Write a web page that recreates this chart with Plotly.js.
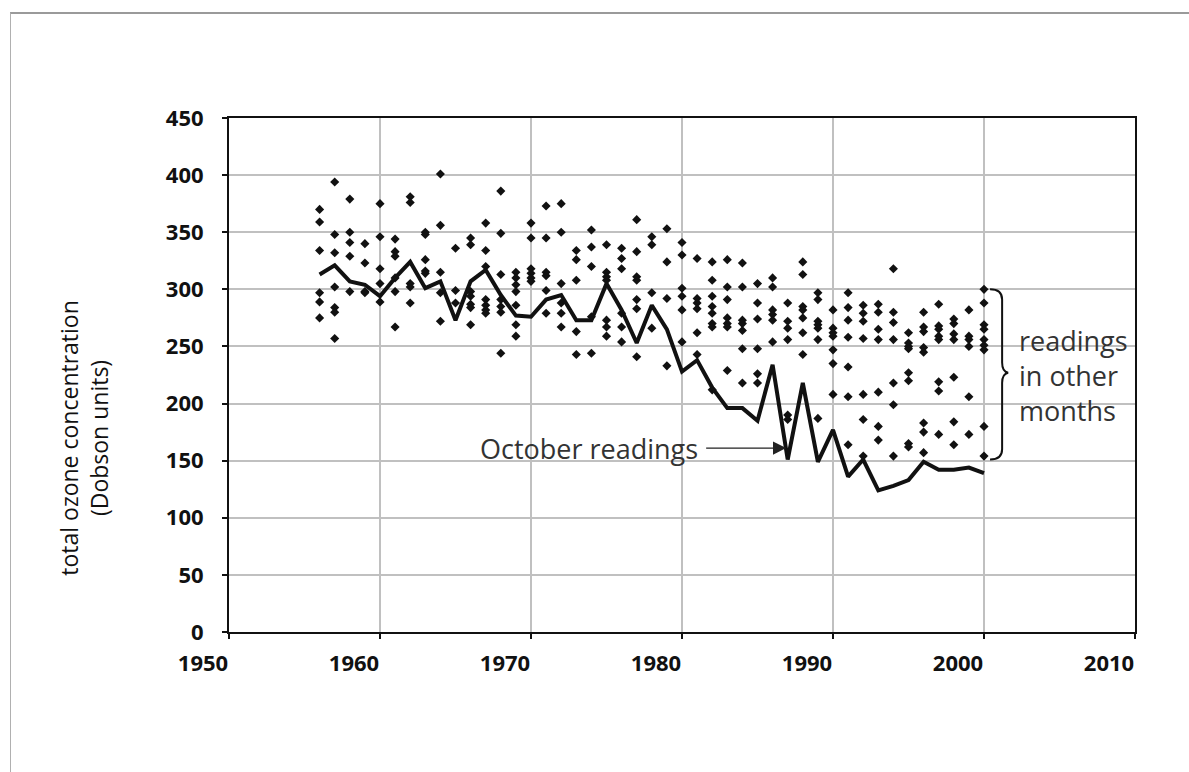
<!DOCTYPE html>
<html>
<head>
<meta charset="utf-8">
<script src="https://cdn.plot.ly/plotly-3.0.1.min.js"></script>
<style>
  html, body { margin: 0; padding: 0; background: #fff; }
  #wrap { position: relative; width: 1189px; height: 772px; }
  #chart { width: 1189px; height: 772px; }
  #frame { position: absolute; left: 10px; top: 12px; right: 0; bottom: 0;
           border-top: 2px solid #9a9a9a; border-left: 1px solid #b0b0b0; pointer-events: none; }
</style>
</head>
<body>
<div id="wrap">
  <div id="chart"></div>
  <div id="frame"></div>
</div>
<script>
// October readings (solid line)
const years = [1956,1957,1958,1959,1960,1961,1962,1963,1964,1965,1966,1967,1968,1969,1970,
  1971,1972,1973,1974,1975,1976,1977,1978,1979,1980,1981,1982,1983,1984,1985,
  1986,1987,1988,1989,1990,1991,1992,1993,1994,1995,1996,1997,1998,1999,2000];
const october = [313,321,307,304,294,310,324,301,307,273,307,317,295,277,276,
  291,295,273,273,305,282,253,286,265,228,238,214,196,196,185,
  234,151,218,149,177,136,151,124,128,133,149,142,142,144,139];

// Readings in other months, one list per year (same order as years)
const otherMonths = [
  [370,359,334,297,289,275],
  [394,348,332,302,284,280,257],
  [379,350,341,329,298],
  [340,323,298,297],
  [375,346,318,305,289],
  [344,333,329,310,298,267],
  [381,376,305,302,288],
  [350,348,326,316,314],
  [401,356,315,297,272],
  [336,299,288],
  [345,339,298,294,287,284,269],
  [358,334,320,291,286,282,279],
  [386,349,313,291,285,280,244],
  [315,310,304,298,286,269,259],
  [358,345,318,314,310,307],
  [373,345,315,312,299,279],
  [375,350,305,288,279,267],
  [334,326,308,263,243],
  [352,337,320,276,244],
  [339,315,311,308,273,267,259],
  [336,327,318,279,267,254],
  [361,333,311,308,291,283,241],
  [346,339,297,266],
  [353,324,292,233],
  [341,330,301,294,282,254],
  [327,292,288,283,262,243],
  [324,308,294,285,279,270,267,212],
  [326,302,291,275,270,267,229],
  [323,302,273,270,264,248,218],
  [305,288,274,248,226,218],
  [310,302,282,278,273,254],
  [288,272,266,256,190,186],
  [324,313,285,282,275,262,243],
  [297,291,272,269,266,256,187],
  [282,266,262,259,247,235,208],
  [297,284,273,258,232,206,164],
  [286,279,272,257,208,186,154],
  [287,280,265,256,210,180,168],
  [318,280,271,256,218,199,154],
  [262,253,250,248,227,220,165,162],
  [280,267,263,249,245,183,175,157],
  [287,268,265,259,256,219,211,173],
  [274,270,261,256,223,184,164],
  [282,259,256,250,206,173],
  [300,288,269,265,256,251,247,180,154]
];

const xTicks = [1950,1960,1970,1980,1990,2000,2010];
const yTicks = [0,50,100,150,200,250,300,350,400,450];
const yTitle = 'total ozone concentration<br>(Dobson units)';
const arrowLabel = 'October readings';
const braceLabel = 'readings<br>in other<br>months';

const ox = [], oy = [];
otherMonths.forEach((vals, i) => vals.forEach(v => { ox.push(years[i]); oy.push(v); }));

const font = 'Open Sans, Noto Sans, DejaVu Sans, sans-serif';

const traces = [
  { x: ox, y: oy, type: 'scatter', mode: 'markers',
    marker: { symbol: 'diamond', size: 7, color: '#111' }, hoverinfo: 'x+y' },
  { x: years, y: october, type: 'scatter', mode: 'lines',
    line: { color: '#111', width: 4 } }
];

const axisCommon = {
  showline: true, linecolor: '#111', linewidth: 2, mirror: true,
  showgrid: true, gridcolor: '#c0c0c0', gridwidth: 2,
  zeroline: false, ticks: 'outside', ticklen: 5, tickwidth: 2, tickcolor: '#111',
  tickfont: { family: font, size: 22, color: '#111', weight: 'bold' }
};

const layout = {
  width: 1189, height: 772,
  margin: { l: 229, r: 54, t: 118, b: 140 },
  paper_bgcolor: 'rgba(0,0,0,0)', plot_bgcolor: '#fff',
  showlegend: false,
  xaxis: Object.assign({}, axisCommon, { range: [1950, 2010], tickvals: xTicks, ticktext: xTicks.map(String),
    ticklabelshift: -26, ticklabelstandoff: 6 }),
  yaxis: Object.assign({}, axisCommon, { range: [0, 450], tickvals: yTicks, ticktext: yTicks.map(String),
    ticklabelstandoff: 14 }),
  shapes: [
    { type: 'path', xref: 'x', yref: 'y',
      path: 'M 2000.4,300 Q 2001.2,300 2001.2,291 L 2001.2,236 Q 2001.2,228 2001.6,227 Q 2001.2,226 2001.2,218 L 2001.2,160 Q 2001.2,151 2000.4,151',
      line: { color: '#111', width: 2 } }
  ],
  annotations: [
    { xref: 'paper', yref: 'paper', x: -0.16, y: 0.378, xanchor: 'center', yanchor: 'middle',
      text: yTitle, textangle: -90,
      showarrow: false, font: { family: font, size: 23, color: '#111' } },
    { xref: 'x', yref: 'y', x: 1981.2, y: 161, xanchor: 'right', yanchor: 'middle',
      text: arrowLabel, showarrow: false, font: { family: font, size: 27, color: '#333' } },
    { xref: 'x', yref: 'y', x: 1986.9, y: 161, axref: 'x', ayref: 'y', ax: 1981.5, ay: 161,
      text: '', showarrow: true, arrowhead: 2, arrowsize: 2.2, arrowwidth: 1.2, arrowcolor: '#222' },
    { xref: 'x', yref: 'y', x: 2002.2, y: 225, xanchor: 'left', yanchor: 'middle', align: 'left',
      text: braceLabel, showarrow: false, font: { family: font, size: 27, color: '#333' } }
  ]
};

Plotly.newPlot('chart', traces, layout, { staticPlot: true });
</script>
</body>
</html>
